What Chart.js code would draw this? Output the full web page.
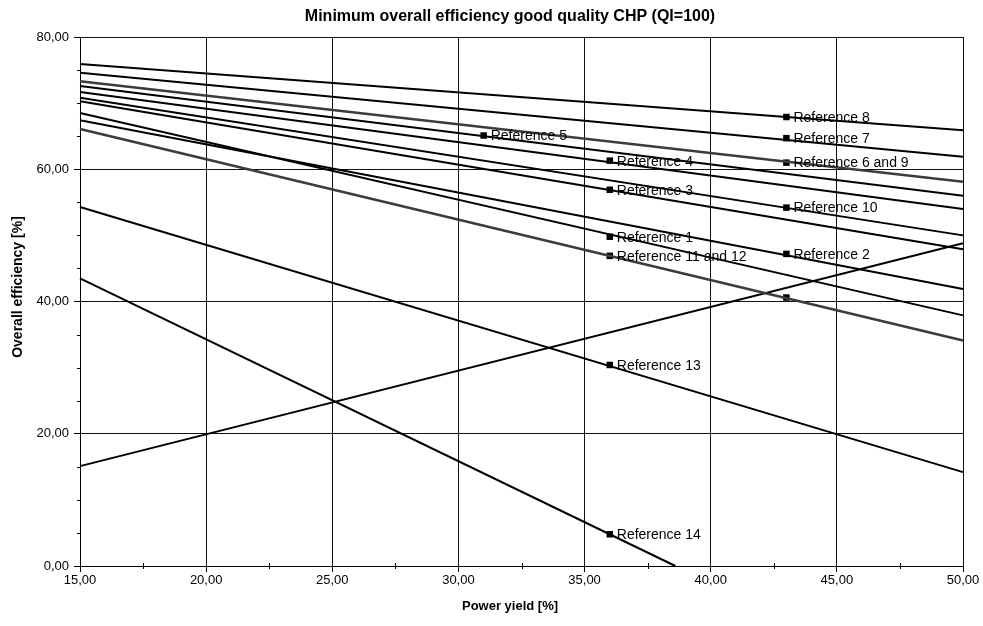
<!DOCTYPE html>
<html>
<head>
<meta charset="utf-8">
<script src="https://cdn.jsdelivr.net/npm/chart.js@4.4.1/dist/chart.umd.min.js"></script>
<style>
  html, body { margin: 0; padding: 0; background: #fff; }
  #wrap { width: 983px; height: 626px; }
</style>
</head>
<body>
<div id="wrap"><canvas id="chpChart"></canvas></div>
<script>
/* ===== DATA ===== */
// one straight line per reference, read at its two ends
const lineNames = ["Reference 8", "Reference 7", "Reference 6 and 9", "Reference 5", "Reference 4",
  "Reference 10", "Reference 3", "Reference 1", "Reference 2",
  "Reference 11 and 12", "Reference 13", "Reference 14", "rising line"];
const startPower = [15, 15, 15, 15, 15, 15, 15, 15, 15, 15, 15, 15, 15];
const startEff   = [75.9, 74.6, 73.3, 72.6, 71.7, 70.8, 70.3, 68.5, 67.4, 66.1, 54.3, 43.5, 15.1];
const endPower   = [50, 50, 50, 50, 50, 50, 50, 50, 50, 50, 50, 38.6, 50];
const endEff     = [65.9, 61.9, 58.1, 56.0, 54.0, 50.0, 47.9, 37.9, 41.9, 34.1, 14.2, 0, 48.8];

// labelled marker points
const markerPower = [43, 43, 43, 31, 36, 43, 36, 36, 43, 36, 43, 36, 36];
const markerEff   = [67.9, 64.7, 61.0, 65.1, 61.3, 54.2, 56.9, 49.8, 47.2, 46.9, 40.6, 30.4, 4.8];
const markerText  = ["Reference 8", "Reference 7", "Reference 6 and 9", "Reference 5", "Reference 4",
  "Reference 10", "Reference 3", "Reference 1", "Reference 2", "Reference 11 and 12", "",
  "Reference 13", "Reference 14"];

const xTicks = [15, 20, 25, 30, 35, 40, 45, 50];
const yTicks = [0, 20, 40, 60, 80];
const xMinor = [17.5, 22.5, 27.5, 32.5, 37.5, 42.5, 47.5];
const yMinor = [5, 10, 15, 25, 30, 35, 45, 50, 55, 65, 70, 75];

/* ===== STYLE ===== */
const FONT = "'Liberation Sans', Arial, sans-serif";
const greyLines = ["Reference 6 and 9", "Reference 11 and 12"];
const fmt = v => v.toFixed(2).replace(".", ",");

const datasets = lineNames.map((name, i) => ({
  label: name,
  data: [{ x: startPower[i], y: startEff[i] }, { x: endPower[i], y: endEff[i] }],
  showLine: true,
  borderColor: greyLines.includes(name) ? "#3c3c3c" : "#000",
  borderWidth: greyLines.includes(name) ? 2.6 : 2,
  pointRadius: 0,
  clip: 2
}));

datasets.push({
  label: "markers",
  data: markerPower.map((x, i) => ({ x: x, y: markerEff[i] })),
  showLine: false,
  pointStyle: "rect",
  pointRadius: 4.6,
  backgroundColor: "#000",
  borderColor: "#000",
  borderWidth: 0
});

/* ===== EXTRAS: minor ticks, marker labels, titles ===== */
const extras = {
  id: "extras",
  afterDatasetsDraw(chart) {
    const ctx = chart.ctx;
    const xs = chart.scales.x, ys = chart.scales.y;
    const area = chart.chartArea;
    ctx.save();
    ctx.strokeStyle = "#000";
    ctx.lineWidth = 1;
    ctx.beginPath();
    xMinor.forEach(v => {
      const px = Math.round(xs.getPixelForValue(v)) + 0.5;
      ctx.moveTo(px, area.bottom - 3);
      ctx.lineTo(px, area.bottom + 3);
    });
    yMinor.forEach(v => {
      const py = Math.round(ys.getPixelForValue(v)) + 0.5;
      ctx.moveTo(area.left - 3, py);
      ctx.lineTo(area.left, py);
    });
    ctx.stroke();

    // marker labels
    const meta = chart.getDatasetMeta(chart.data.datasets.length - 1);
    ctx.fillStyle = "#000";
    ctx.font = "14px " + FONT;
    ctx.textBaseline = "middle";
    ctx.textAlign = "left";
    meta.data.forEach((pt, i) => {
      if (markerText[i]) ctx.fillText(markerText[i], pt.x + 7, pt.y + 1);
    });

    // titles
    ctx.textAlign = "center";
    ctx.font = "bold 16px " + FONT;
    ctx.fillText("Minimum overall efficiency good quality CHP (QI=100)", 510, 17);
    ctx.font = "bold 13px " + FONT;
    ctx.fillText("Power yield [%]", 510, 606);
    ctx.translate(18, 287);
    ctx.rotate(-Math.PI / 2);
    ctx.font = "bold 14px " + FONT;
    ctx.fillText("Overall efficiency [%]", 0, 0);
    ctx.restore();
  }
};

new Chart(document.getElementById("chpChart"), {
  type: "scatter",
  data: { datasets: datasets },
  options: {
    responsive: true,
    maintainAspectRatio: false,
    animation: false,
    layout: { padding: { top: 37, right: 20, left: 0, bottom: 0 } },
    plugins: {
      legend: { display: false },
      tooltip: { enabled: false }
    },
    scales: {
      x: {
        type: "linear",
        min: 15,
        max: 50,
        afterFit: s => { s.height = 60; },
        afterBuildTicks: s => { s.ticks = xTicks.map(v => ({ value: v })); },
        grid: { color: "#111", lineWidth: 1, tickLength: 6, tickColor: "#000" },
        border: { color: "#000", width: 1 },
        ticks: { color: "#000", font: { family: FONT, size: 13 }, padding: 1, maxRotation: 0, callback: v => fmt(v) }
      },
      y: {
        type: "linear",
        min: 0,
        max: 80,
        afterFit: s => { s.width = 80; },
        afterBuildTicks: s => { s.ticks = yTicks.map(v => ({ value: v })); },
        grid: { color: "#111", lineWidth: 1, tickLength: 6, tickColor: "#000" },
        border: { color: "#000", width: 1 },
        ticks: { color: "#000", font: { family: FONT, size: 13 }, padding: 5, callback: v => fmt(v) }
      }
    }
  },
  plugins: [extras]
});
</script>
</body>
</html>
